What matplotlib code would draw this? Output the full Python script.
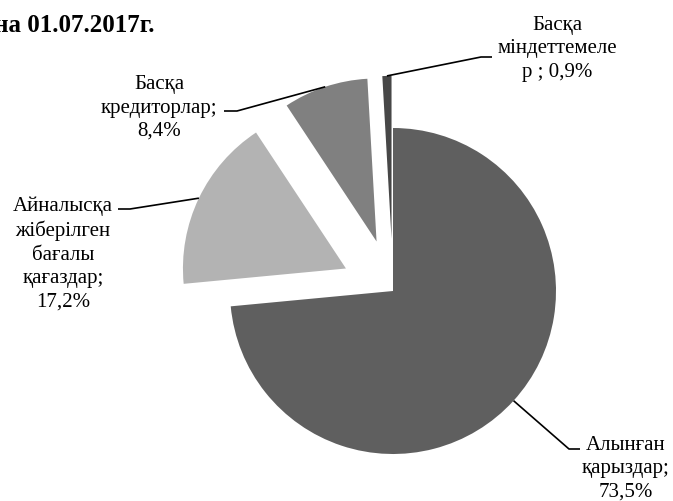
import numpy as np
import matplotlib
matplotlib.use("Agg")
import matplotlib.pyplot as plt

# ---- data ----
categories = ["Алынған\nқарыздар;", "Айналысқа\nжіберілген\nбағалы\nқағаздар;",
              "Басқа\nкредиторлар;", "Басқа\nміндеттемеле\nр ;"]
values = [73.5, 17.2, 8.4, 0.9]
value_labels = ["73,5%", "17,2%", "8,4%", "0,9%"]
title_text = "на 01.07.2017г."

# ---- style / layout ----
W, H = 673, 502
colors = ["#5f5f5f", "#b3b3b3", "#808080", "#474747"]
explode_frac = [0.0, 0.32, 0.32, 0.32]
center_px = (393, 292)
radius = 163

# label block centres (px, y down) and leader end points (px)
label_pos = [(626, 469), (63, 254), (159, 108), (557, 49)]
leader_end = [(580, 450), (118, 210), (224, 112), (492, 58)]
elbow_dx = [-11, 12, 13, -11]

def py(y):
    return H - y

fig = plt.figure(figsize=(W / 100, H / 100), dpi=100)
ax = fig.add_axes([0, 0, 1, 1])

wedges, _ = ax.pie(values, colors=colors, startangle=90, counterclock=False,
                   explode=[e * radius for e in explode_frac],
                   center=(center_px[0], py(center_px[1])), radius=radius,
                   wedgeprops=dict(linewidth=0))
ax.set_xlim(0, W)
ax.set_ylim(0, H)
ax.set_aspect("auto")
ax.axis("off")

serif = ["Liberation Serif", "DejaVu Serif"]

for i, w in enumerate(wedges):
    tm = np.deg2rad(0.5 * (w.theta1 + w.theta2))
    cx, cy = w.center
    ax_pt = (cx + w.r * np.cos(tm), cy + w.r * np.sin(tm))
    ex, ey = leader_end[i]
    elbow = (ex + elbow_dx[i], py(ey))
    ax.plot([ax_pt[0], elbow[0], ex], [ax_pt[1], elbow[1], py(ey)],
            color="black", lw=1.2, solid_capstyle="butt")
    lx, lyy = label_pos[i]
    ax.text(lx, py(lyy), categories[i] + ("\n" if i != 3 else " ") + value_labels[i],
            ha="center", va="center", multialignment="center",
            fontsize=15, family=serif, linespacing=1.31, color="black")

ax.text(155, py(25), title_text, ha="right", va="center", fontsize=18,
        fontweight="bold", family=serif, color="black")

fig.savefig("out.png", dpi=100)
